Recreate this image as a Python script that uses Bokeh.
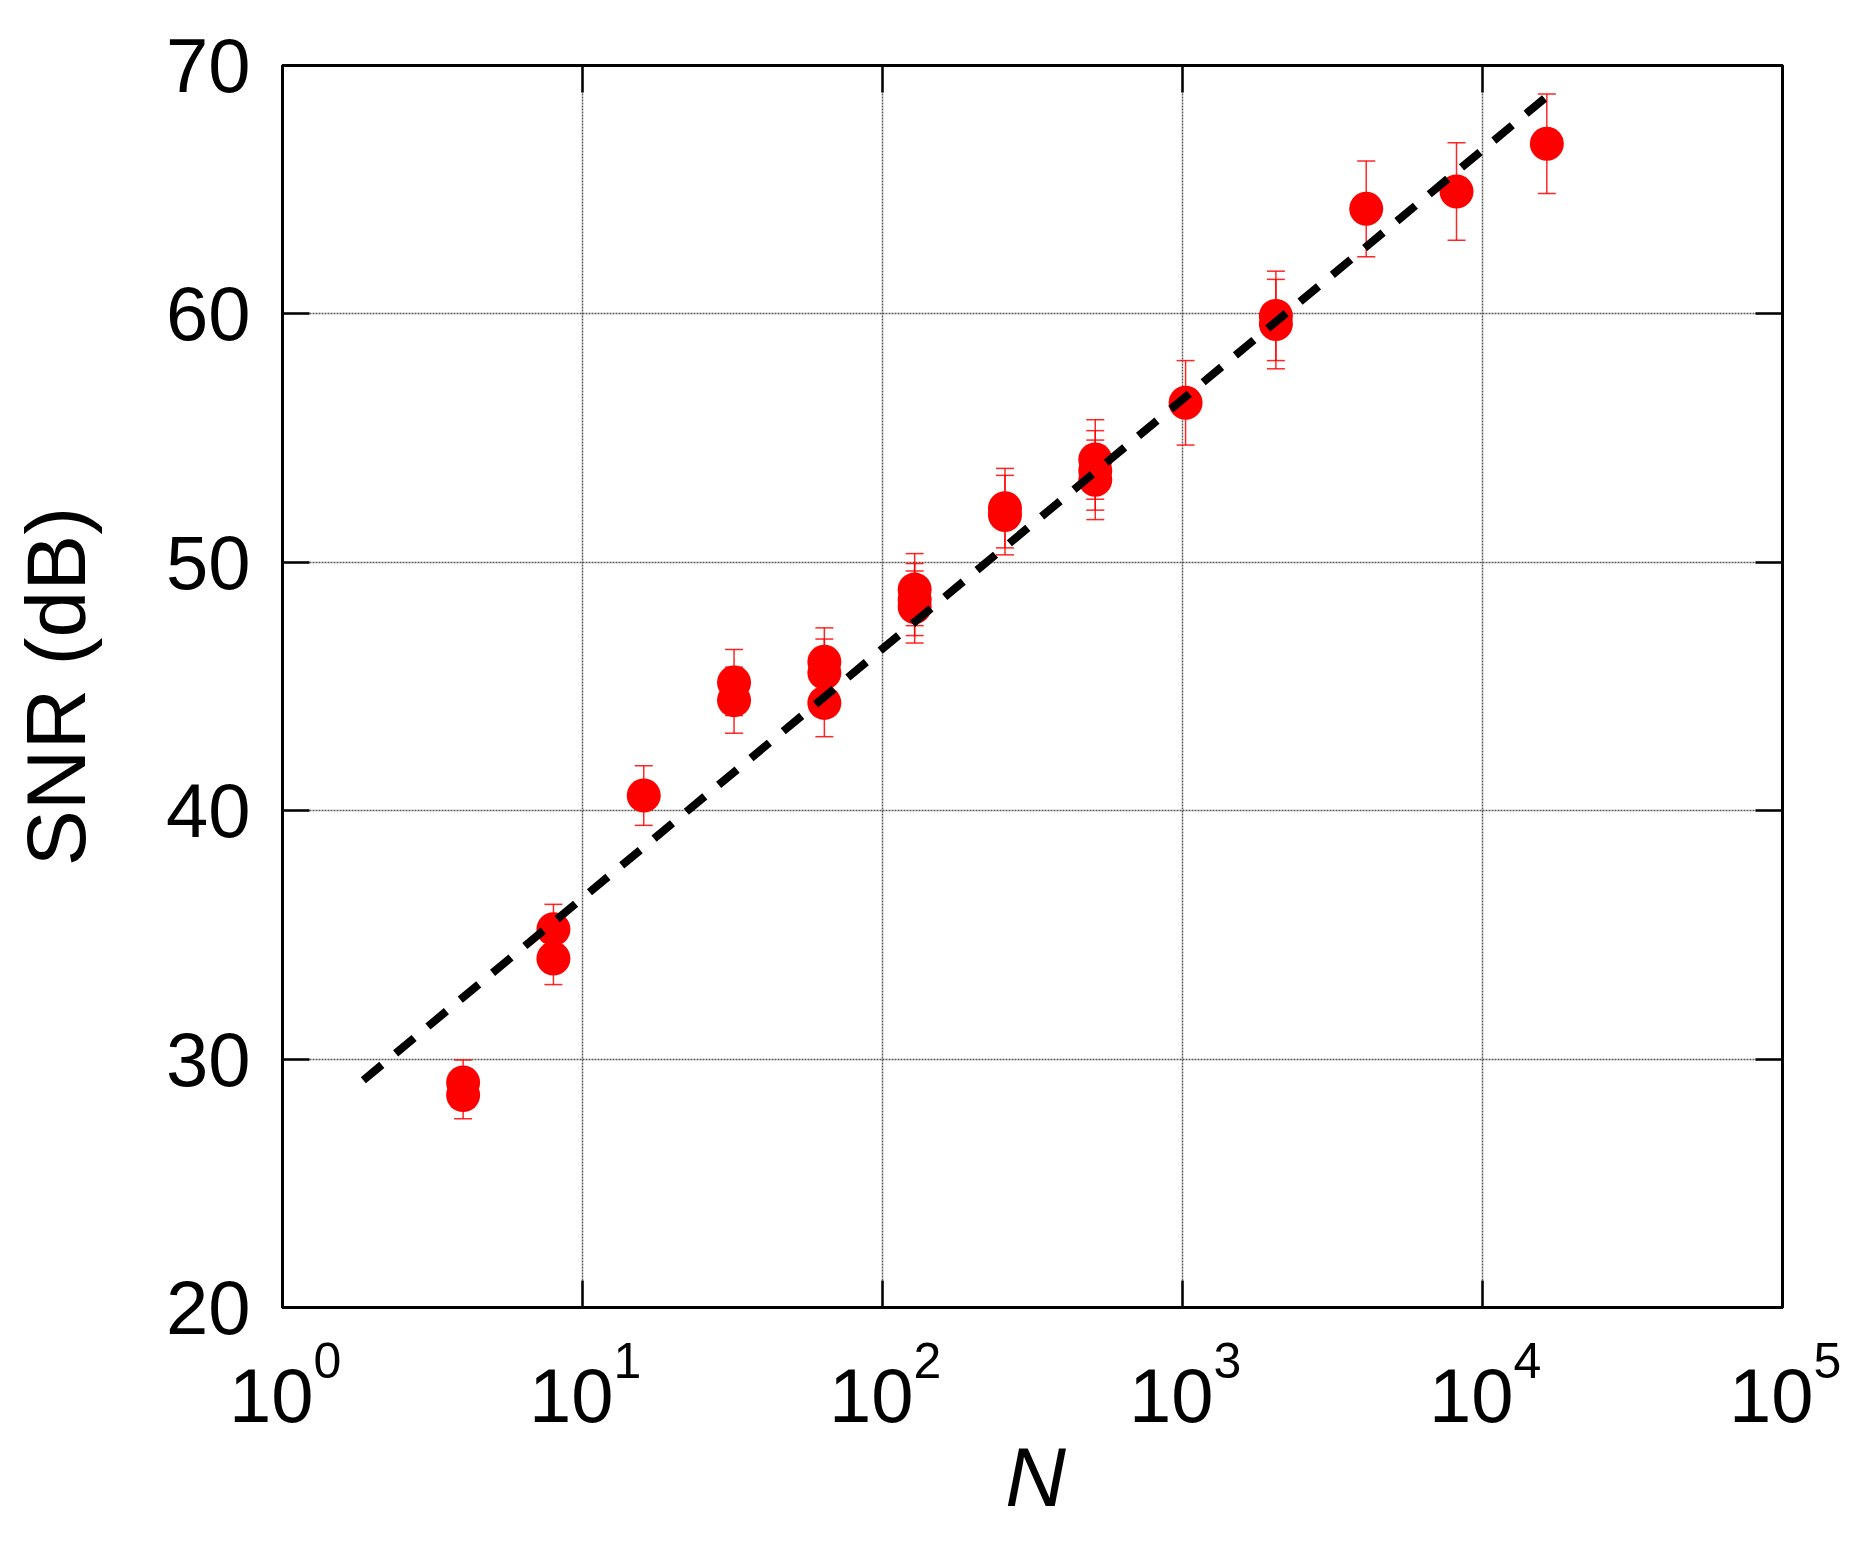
from bokeh.plotting import figure
from bokeh.models import (Range1d, FixedTicker, LinearAxis, LogAxis,
                          Whisker, ColumnDataSource, CustomJSTickFormatter, TeeHead)
from bokeh.core.properties import value
from bokeh.embed import file_html
from bokeh.resources import INLINE

# ---- data ----
N_vals = [4, 4, 8, 8, 16, 32, 32, 64, 64, 64, 128, 128, 128, 256, 256,
          512, 512, 512, 1024, 2048, 2048, 4096, 8192, 16384]
snr_vals = [29.06, 28.55, 35.23, 34.05, 40.61, 45.16, 44.45, 46.0, 45.55, 44.34,
            48.9, 48.5, 48.2, 52.18, 51.9, 54.14, 53.7, 53.32, 56.42,
            59.92, 59.59, 64.23, 64.93, 66.85]
err_vals = [0.9, 0.95, 1.0, 1.05, 1.2, 1.33, 1.33, 1.36, 1.36, 1.36,
            1.45, 1.45, 1.45, 1.6, 1.6, 1.6, 1.6, 1.6, 1.7,
            1.8, 1.8, 1.93, 1.96, 2.0]
fit_N = [1.86, 16384]
fit_snr = [29.15, 68.75]
y_ticks = [20, 30, 40, 50, 60, 70]
x_tick_exponents = [0, 1, 2, 3, 4, 5]
x_tick_base = "10"
x_label = "N"
y_label = "SNR (dB)"

FONT = "Liberation Sans"

# layout (pixels)
LEFT, TOP, RIGHT, BOTTOM = 282, 65, 76, 230
FW, FH = 1500, 1242
BASE_DROP, SUP_DROP, XLABEL_DROP = 88, 53, 169   # px below the frame

src = ColumnDataSource(dict(
    N=N_vals, snr=snr_vals,
    lo=[s - e for s, e in zip(snr_vals, err_vals)],
    hi=[s + e for s, e in zip(snr_vals, err_vals)],
))

x_ticks = [10 ** e for e in x_tick_exponents]

p = figure(x_axis_type="log", x_range=Range1d(x_ticks[0], x_ticks[-1]),
           y_range=Range1d(y_ticks[0], y_ticks[-1]),
           frame_width=FW, frame_height=FH, title=None,
           min_border_left=LEFT, min_border_right=RIGHT, min_border_top=TOP,
           min_border_bottom=BOTTOM,
           output_backend="svg", toolbar_location=None,
           background_fill_color="white", border_fill_color="white")

p.outline_line_color = "black"
p.outline_line_width = 3

empty = CustomJSTickFormatter(code="return ''")

def style_axis(ax, ticks):
    ax.ticker = FixedTicker(ticks=ticks, minor_ticks=[])
    ax.axis_line_color = None
    ax.major_tick_in = 27
    ax.major_tick_out = 0
    ax.major_tick_line_color = "black"
    ax.major_tick_line_width = 2.5
    ax.minor_tick_line_color = None

def silent(ax):
    ax.formatter = empty
    ax.major_label_standoff = 0
    ax.major_label_text_font_size = "0px"

xa = p.xaxis[0]
style_axis(xa, x_ticks)
silent(xa)

ya = p.yaxis[0]
style_axis(ya, y_ticks)
ya.major_label_text_font = FONT
ya.major_label_text_font_size = "76px"
ya.major_label_text_color = "black"
ya.major_label_standoff = 32
ya.axis_label = y_label
ya.axis_label_text_font = FONT
ya.axis_label_text_font_style = "normal"
ya.axis_label_text_font_size = "84px"
ya.axis_label_text_color = "black"
ya.axis_label_standoff = 60

top = LogAxis()
style_axis(top, x_ticks)
silent(top)
p.add_layout(top, "above")

right = LinearAxis()
style_axis(right, y_ticks)
silent(right)
p.add_layout(right, "right")

for g, ticks in ((p.xgrid[0], x_ticks), (p.ygrid[0], y_ticks)):
    g.ticker = FixedTicker(ticks=ticks, minor_ticks=[])
    g.grid_line_color = "#5a5a5a"
    g.grid_line_width = 1.5
    g.grid_line_dash = "2 1"

# error bars
head = dict(size=18, line_color="red", line_width=1.5, line_alpha=0.85)
wh = Whisker(base="N", lower="lo", upper="hi", source=src, dimension="height",
             line_color="red", line_width=1.5, line_alpha=0.85,
             lower_head=TeeHead(**head), upper_head=TeeHead(**head))
p.add_layout(wh)

p.scatter("N", "snr", source=src, size=34, fill_color="#ff0000", line_color=None)

p.line(fit_N, fit_snr, line_color="black", line_width=8, line_dash="24 18")

# ---- "10^k" tick labels and the N label, drawn below the frame ----
y0 = y_ticks[0]
units_per_px = (y_ticks[-1] - y_ticks[0]) / FH
n = len(x_ticks)
p.text(x=x_ticks, y=[y0 - BASE_DROP * units_per_px] * n, text=[x_tick_base] * n,
       x_offset=31, text_align="right", text_baseline="alphabetic",
       text_font=value(FONT), text_font_size="76px", text_color="black",
       level="overlay")
p.text(x=x_ticks, y=[y0 - SUP_DROP * units_per_px] * n,
       text=[str(e) for e in x_tick_exponents], x_offset=31,
       text_align="left", text_baseline="alphabetic",
       text_font=value(FONT), text_font_size="50px", text_color="black",
       level="overlay")
x_mid = (x_ticks[0] * x_ticks[-1]) ** 0.5
p.text(x=[x_mid], y=[y0 - XLABEL_DROP * units_per_px], text=[x_label], x_offset=3,
       text_align="center", text_baseline="alphabetic",
       text_font=value(FONT), text_font_style="italic",
       text_font_size="84px", text_color="black", level="overlay")

open("out.html", "w").write(file_html(p, INLINE))
